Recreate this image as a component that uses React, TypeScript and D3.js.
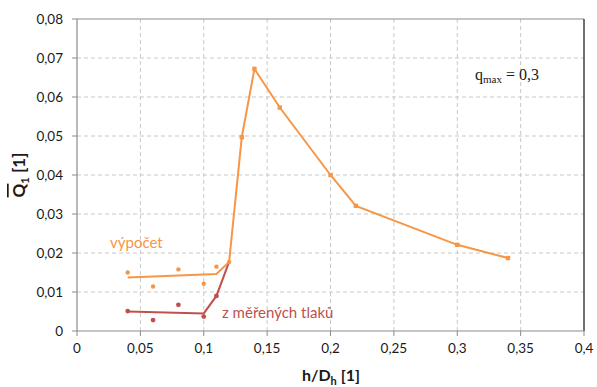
import React from "react";
import * as d3 from "d3";

const xTicks = [0, 0.05, 0.1, 0.15, 0.2, 0.25, 0.3, 0.35, 0.4];
const yTicks = [0, 0.01, 0.02, 0.03, 0.04, 0.05, 0.06, 0.07, 0.08];

// výpočet (computed) – fitted line and scattered points
const calcLineX = [0.04, 0.11, 0.12, 0.13, 0.14, 0.16, 0.2, 0.22, 0.3, 0.34];
const calcLineY = [0.0137, 0.0146, 0.0177, 0.0497, 0.0672, 0.0573, 0.04, 0.0321, 0.0221, 0.0187];
const calcLineMarkX = [0.13, 0.14, 0.16, 0.2, 0.22, 0.3, 0.34];
const calcLineMarkY = [0.0497, 0.0672, 0.0573, 0.04, 0.0321, 0.0221, 0.0187];
const calcPtsX = [0.04, 0.06, 0.08, 0.1, 0.11, 0.12];
const calcPtsY = [0.015, 0.0114, 0.0158, 0.0121, 0.0165, 0.0177];

// z měřených tlaků (from measured pressures)
const measLineX = [0.04, 0.1, 0.11, 0.12];
const measLineY = [0.005, 0.0045, 0.009, 0.0177];
const measPtsX = [0.04, 0.06, 0.08, 0.1, 0.11];
const measPtsY = [0.0051, 0.0028, 0.0067, 0.0037, 0.009];

const ORANGE = "#F79646";
const RED = "#C0504D";
const FONT = "Lato, 'Open Sans', sans-serif";

export default function App() {
  const W = 597, H = 387;
  const L = 77, R = 584, T = 19, B = 331;
  const x = d3.scaleLinear().domain([0, 0.4]).range([L, R]);
  const y = d3.scaleLinear().domain([0, 0.08]).range([B, T]);
  const line = d3.line<[number, number]>().x(d => x(d[0])).y(d => y(d[1]));
  const fmt = (v: number) => String(v).replace(".", ",");
  const zip = (a: number[], b: number[]) => a.map((v, i) => [v, b[i]] as [number, number]);

  return (
    <svg width={W} height={H} style={{ position: "absolute", left: 0, top: 0, background: "#fff" }}>
      {/* grid */}
      {xTicks.slice(1, -1).map(t => (
        <line key={"gx" + t} x1={x(t)} x2={x(t)} y1={T} y2={B} stroke="#c8c8c8" strokeDasharray="4,3" strokeWidth={1} />
      ))}
      {yTicks.slice(1, -1).map(t => (
        <line key={"gy" + t} x1={L} x2={R} y1={y(t)} y2={y(t)} stroke="#c8c8c8" strokeDasharray="4,3" strokeWidth={1} />
      ))}
      {/* frame */}
      <line x1={L} x2={R} y1={T} y2={T} stroke="#8c8c8c" strokeWidth={1.2} />
      <line x1={R} x2={R} y1={T} y2={B} stroke="#404040" strokeWidth={1.5} />
      <line x1={L} x2={L} y1={T} y2={B} stroke="#8c8c8c" strokeWidth={1.2} />
      <line x1={L} x2={R} y1={B} y2={B} stroke="#8c8c8c" strokeWidth={1.2} />
      {/* ticks */}
      {xTicks.map(t => (
        <g key={"tx" + t}>
          <line x1={x(t)} x2={x(t)} y1={B} y2={B + 5} stroke="#8c8c8c" />
          <text x={x(t)} y={B + 22} textAnchor="middle" fontFamily={FONT} fontSize={13.5} fill="#1a1a1a">{fmt(t)}</text>
        </g>
      ))}
      {yTicks.map(t => (
        <g key={"ty" + t}>
          <line x1={L - 5} x2={L} y1={y(t)} y2={y(t)} stroke="#8c8c8c" />
          <text x={L - 14} y={y(t) + 4.5} textAnchor="end" fontFamily={FONT} fontSize={13.5} fill="#1a1a1a">{fmt(t)}</text>
        </g>
      ))}
      {/* axis titles */}
      <text x={331} y={381} textAnchor="middle" fontFamily={FONT} fontSize={16} fontWeight="bold" fill="#1a1a1a">
        h/D<tspan fontSize={11} dy={4}>h</tspan><tspan dy={-4}> [1]</tspan>
      </text>
      <g transform="translate(25,175) rotate(-90)">
        <text x={0} y={0} textAnchor="middle" fontFamily={FONT} fontSize={17} fontWeight="bold" fill="#1a1a1a">
          <tspan style={{ textDecoration: "overline" }}>Q</tspan>
          <tspan fontSize={11} dy={4}>1</tspan>
          <tspan dy={-4}> [1]</tspan>
        </text>
      </g>
      {/* series */}
      <path d={line(zip(measLineX, measLineY)) || ""} fill="none" stroke={RED} strokeWidth={2} />
      {zip(measPtsX, measPtsY).map((p, i) => (
        <circle key={"mp" + i} cx={x(p[0])} cy={y(p[1])} r={2.4} fill={RED} />
      ))}
      <path d={line(zip(calcLineX, calcLineY)) || ""} fill="none" stroke={ORANGE} strokeWidth={2} />
      {zip(calcLineMarkX, calcLineMarkY).map((p, i) => (
        <rect key={"cm" + i} x={x(p[0]) - 2.2} y={y(p[1]) - 2.2} width={4.4} height={4.4} fill={ORANGE} />
      ))}
      {zip(calcPtsX, calcPtsY).map((p, i) => (
        <circle key={"cp" + i} cx={x(p[0])} cy={y(p[1])} r={2.2} fill={ORANGE} />
      ))}
      {/* labels */}
      <text x={110} y={248} fontFamily={FONT} fontSize={15} fill={ORANGE}>výpočet</text>
      <text x={222} y={318} fontFamily={FONT} fontSize={15} fill={RED}>z měřených tlaků</text>
      <text x={475} y={80} fontFamily="'Liberation Serif', serif" fontSize={16} fill="#1a1a1a">
        q<tspan fontSize={11} dy={3}>max</tspan><tspan dy={-3}> = 0,3</tspan>
      </text>
    </svg>
  );
}
